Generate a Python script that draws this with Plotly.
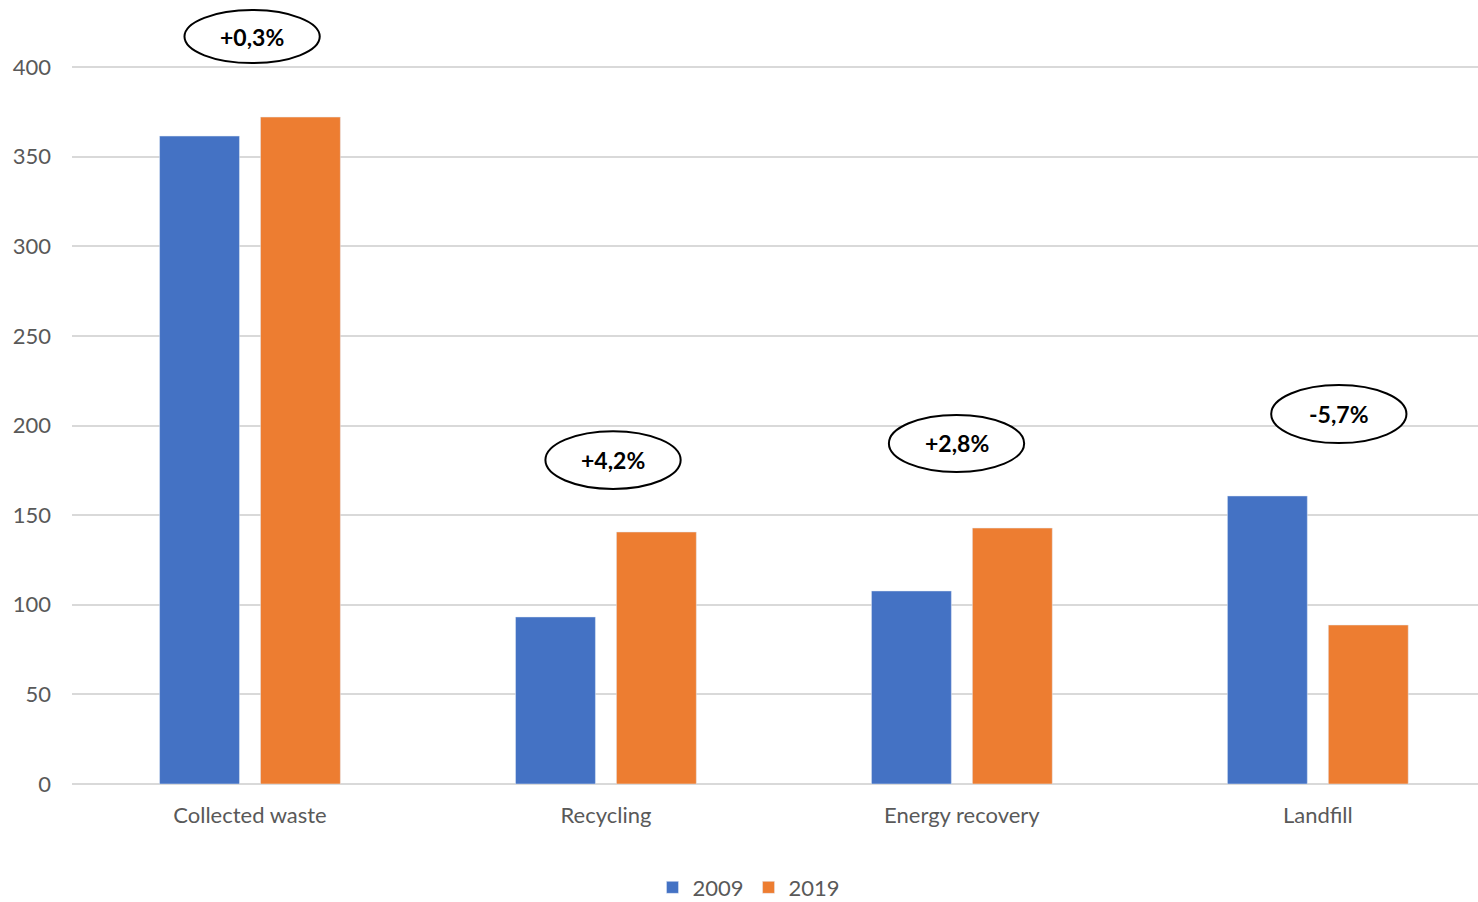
import plotly.graph_objects as go

# Waste flows (thousand tonnes), 2009 vs 2019
categories = ["Collected waste", "Recycling", "Energy recovery", "Landfill"]
values_2009 = [361.5, 93.2, 107.7, 160.7]
values_2019 = [372.1, 140.6, 142.8, 88.7]
change_labels = ["+0,3%", "+4,2%", "+2,8%", "-5,7%"]
y_ticks = [0, 50, 100, 150, 200, 250, 300, 350, 400]

BLUE = "#4472C4"
ORANGE = "#ED7D31"
GRID = "#D9D9D9"
TICK = "#595959"
FONT = "Lato, 'Open Sans', sans-serif"

x_idx = list(range(len(categories)))

fig = go.Figure()
fig.add_trace(go.Bar(x=x_idx, y=values_2009, name="2009", marker_color=BLUE))
fig.add_trace(go.Bar(x=x_idx, y=values_2019, name="2019", marker_color=ORANGE))

# bubble layout for the change labels: (x offset from category, y centre, half height)
bubble_pos = [(0.006, 417.0, 14.8), (1.02, 180.7, 16.1), (1.985, 190.0, 15.9), (3.059, 206.4, 16.2)]
bubble_half_w = 0.19

for (dx, cy, hh), label in zip(bubble_pos, change_labels):
    fig.add_shape(
        type="circle", xref="x", yref="y",
        x0=dx - bubble_half_w, x1=dx + bubble_half_w,
        y0=cy - hh, y1=cy + hh,
        line=dict(color="black", width=2), fillcolor="white", layer="above",
    )
    fig.add_annotation(
        x=dx, y=cy, xref="x", yref="y", text=f"<b>{label}</b>",
        showarrow=False, font=dict(family=FONT, size=23, color="black"),
    )

fig.update_layout(
    width=1478, height=902,
    margin=dict(l=72, r=0, t=0, b=118),
    paper_bgcolor="white", plot_bgcolor="white",
    barmode="group", bargap=0.433, bargroupgap=0.208,
    font=dict(family=FONT, color=TICK),
    showlegend=True,
    legend=dict(
        orientation="h", x=0.4815, xanchor="center",
        yref="container", y=0.016, yanchor="middle",
        font=dict(family=FONT, size=22, color=TICK), itemwidth=30,
    ),
    xaxis=dict(
        tickmode="array", tickvals=x_idx, ticktext=categories,
        range=[-0.5, 3.45], showgrid=False, zeroline=False, showline=False,
        tickfont=dict(family=FONT, size=22, color=TICK), ticks="",
        ticklabelstandoff=16,
    ),
    yaxis=dict(
        range=[0, 437.4], tickvals=y_ticks, showgrid=True, gridcolor=GRID, gridwidth=1.5,
        zeroline=True, zerolinecolor=GRID, zerolinewidth=1.5, showline=False,
        tickfont=dict(family=FONT, size=22, color=TICK), ticks="",
        ticklabelstandoff=20,
    ),
)

fig.write_html("out.html")
